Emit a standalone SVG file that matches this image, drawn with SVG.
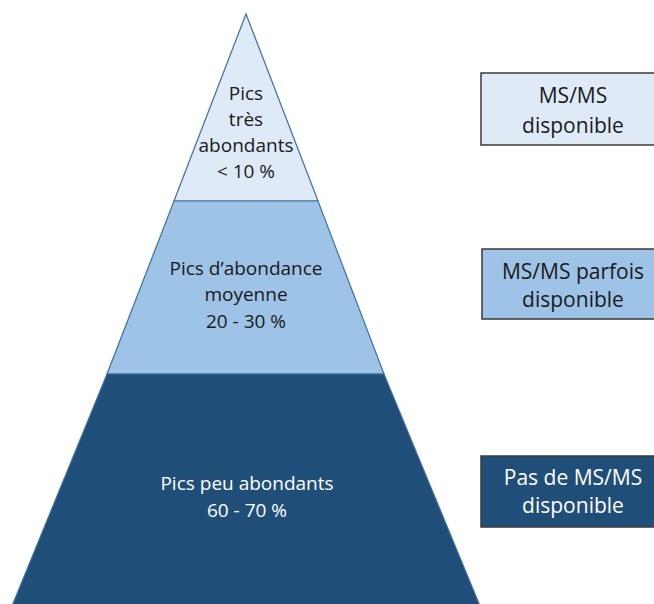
<svg xmlns="http://www.w3.org/2000/svg" width="654" height="604" viewBox="0 0 654 604">
<style>
.t{font-family:"Open Sans","Noto Sans","Liberation Sans",sans-serif;text-anchor:middle;fill:#1a1a1a}
.p{font-size:19px}
.b{font-size:21px}
.w{fill:#ffffff}
.lvl{stroke:#41719c;stroke-width:1.2}
.box{stroke:#3a3a3a;stroke-width:1.5}
</style>
<rect width="654" height="604" fill="#ffffff"/>
<g id="level-top">
<polygon class="lvl" points="246,14 318,201 174,201" fill="#deebf7"/>
<text class="t p" x="246" y="100">Pics</text>
<text class="t p" x="246" y="126">très</text>
<text class="t p" x="246" y="152">abondants</text>
<text class="t p" x="246" y="178">&lt; 10 %</text>
</g>
<g id="level-middle">
<polygon class="lvl" points="174,201 318,201 384,374 107,374" fill="#9dc3e6"/>
<text class="t p" x="246" y="275">Pics d’abondance</text>
<text class="t p" x="246" y="301">moyenne</text>
<text class="t p" x="246" y="328">20 - 30 %</text>
</g>
<g id="level-bottom">
<polygon class="lvl" points="107,374 384,374 480,606 12,606" fill="#1f4e79"/>
<text class="t p w" x="247" y="490">Pics peu abondants</text>
<text class="t p w" x="247" y="517">60 - 70 %</text>
</g>
<g id="box-top">
<rect class="box" x="481" y="73" width="190" height="72" fill="#deebf7"/>
<text class="t b" x="573" y="103">MS/MS</text>
<text class="t b" x="573" y="133">disponible</text>
</g>
<g id="box-middle">
<rect class="box" x="482" y="249" width="190" height="70" fill="#9dc3e6"/>
<text class="t b" x="573" y="279">MS/MS parfois</text>
<text class="t b" x="573" y="307">disponible</text>
</g>
<g id="box-bottom">
<rect class="box" x="481" y="456" width="190" height="71" fill="#1f4e79"/>
<text class="t b w" x="573" y="485">Pas de MS/MS</text>
<text class="t b w" x="573" y="513">disponible</text>
</g>
<g id="connectors"></g>
</svg>
